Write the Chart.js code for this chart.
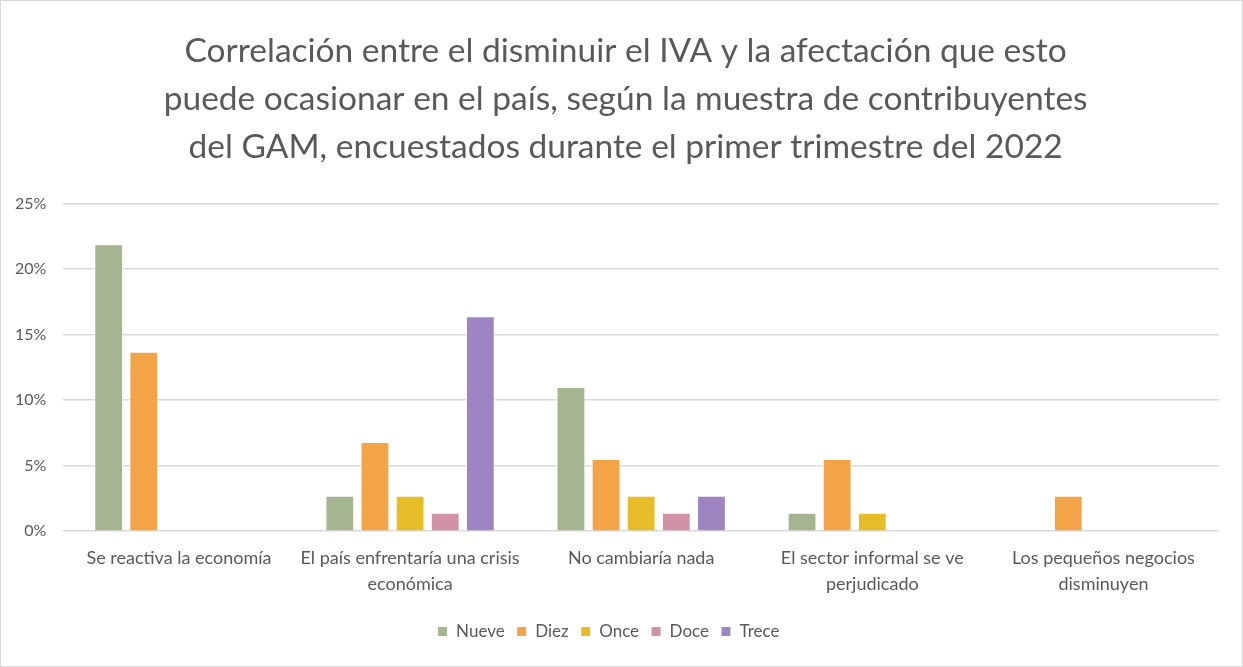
<!DOCTYPE html>
<html>
<head>
<meta charset="utf-8">
<script src="https://cdn.jsdelivr.net/npm/chart.js@4"></script>
<style>
  body { margin: 0; background: #fff; }
  #wrap { width: 1241px; height: 665px; border: 1px solid #d9d9d9; position: relative; }
</style>
</head>
<body>
<div id="wrap"><canvas id="chart" width="1241" height="665"></canvas></div>
<script>
const categories = [
    ['Se reactiva la economía'],
    ['El país enfrentaría una crisis', 'económica'],
    ['No cambiaría nada'],
    ['El sector informal se ve', 'perjudicado'],
    ['Los pequeños negocios', 'disminuyen']
];
const nueve = [0.219, 0.027, 0.110, 0.014, 0];
const diez = [0.137, 0.068, 0.055, 0.055, 0.027];
const once = [0, 0.027, 0.027, 0.014, 0];
const doce = [0, 0.014, 0.014, 0, 0];
const trece = [0, 0.164, 0.027, 0, 0];
const seriesNames = ['Nueve', 'Diez', 'Once', 'Doce', 'Trece'];
const colors = ['#a5b592', '#f3a447', '#e7bc29', '#d092a7', '#9c85c0'];

const titleLines = [
    'Correlación entre el disminuir el IVA y la afectación que esto',
    'puede ocasionar en el país, según la muestra de contribuyentes',
    'del GAM, encuestados durante el primer trimestre del 2022'
];

const fontFam = 'Lato, "Open Sans", sans-serif';
const ctx = document.getElementById('chart').getContext('2d');

// the plot is not centred in the canvas, nudge the title back to the middle
const titleIndent = '\u00a0\u00a0\u00a0\u00a0';

new Chart(ctx, {
    type: 'bar',
    data: {
        labels: categories,
        datasets: [nueve, diez, once, doce, trece].map((d, i) => ({
            label: seriesNames[i],
            data: d,
            backgroundColor: colors[i],
            borderColor: '#ffffff',
            borderWidth: 1,
            categoryPercentage: 0.76,
            barPercentage: 0.82
        }))
    },
    options: {
        responsive: false,
        animation: false,
        layout: { autoPadding: false, padding: { left: -3, right: 23, top: 0, bottom: 16 } },
        plugins: {
            title: {
                display: true,
                text: titleLines.map(t => titleIndent + t),
                color: '#595959',
                font: { family: fontFam, size: 33.5, weight: 'normal', lineHeight: 1.43 },
                padding: { top: 26, bottom: 33 }
            },
            legend: {
                position: 'bottom',
                labels: {
                    color: '#595959',
                    font: { family: fontFam, size: 17 },
                    boxWidth: 10,
                    boxHeight: 10,
                    padding: 12
                }
            },
            tooltip: { enabled: false }
        },
        scales: {
            x: {
                grid: { display: false },
                border: { display: false },
                afterFit: s => { s.height += 8; },
                ticks: {
                    color: '#595959',
                    font: { family: fontFam, size: 18, lineHeight: 1.44 },
                    maxRotation: 0,
                    autoSkip: false,
                    padding: 6
                }
            },
            y: {
                min: 0,
                max: 0.25,
                grid: { color: '#d9d9d9', lineWidth: 1.5, drawTicks: false },
                border: { display: false },
                ticks: {
                    stepSize: 0.05,
                    color: '#595959',
                    font: { family: fontFam, size: 16 },
                    padding: 17,
                    callback: v => Math.round(v * 100) + '%'
                }
            }
        }
    }
});
</script>
</body>
</html>
